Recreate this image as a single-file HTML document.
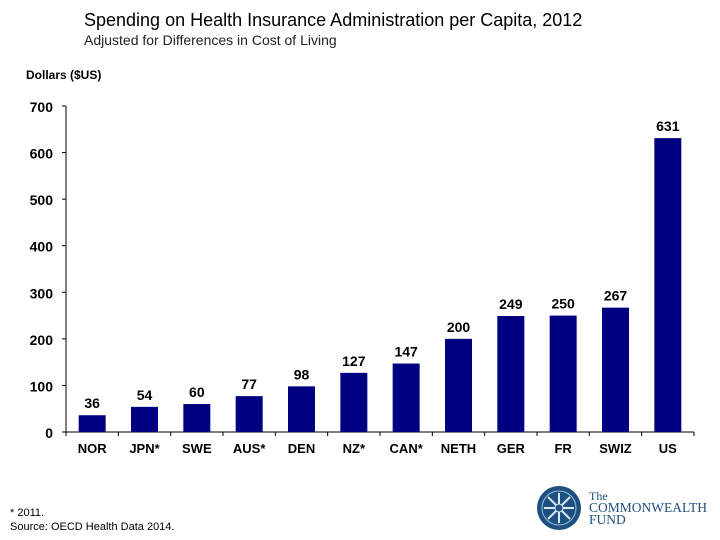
<!DOCTYPE html>
<html><head><meta charset="utf-8"><style>
body{margin:0;background:#fff;font-family:"Liberation Sans",Arial,sans-serif}
#wrap{position:relative;width:720px;height:540px;overflow:hidden}
.t{position:absolute;white-space:nowrap}
</style></head><body>
<div id="wrap">
<div class="t" style="left:84px;top:10px;font-size:18px">Spending on Health Insurance Administration per Capita, 2012</div>
<div class="t" style="left:84px;top:32px;font-size:14px;color:#222">Adjusted for Differences in Cost of Living</div>
<div class="t" style="left:26px;top:68px;font-size:12px;font-weight:bold">Dollars ($US)</div>
<svg id="chart" width="720" height="540" style="position:absolute;left:0;top:0"></svg>
<div class="t" style="left:10px;top:506px;font-size:11px;line-height:14px">* 2011.<br>Source: OECD Health Data 2014.</div>
<svg style="position:absolute;left:536px;top:485px" width="46" height="46">
<circle cx="23" cy="23" r="22" fill="#1d4f7f"/><circle cx="23" cy="23" r="17" fill="none" stroke="#9cc0dd" stroke-width="1"/>
<g stroke="#d8e8f5" stroke-width="2"><line x1="23" y1="8" x2="23" y2="38"/><line x1="8" y1="23" x2="38" y2="23"/><line x1="12" y1="12" x2="34" y2="34"/><line x1="34" y1="12" x2="12" y2="34"/></g>
<circle cx="23" cy="23" r="4" fill="#1d4f7f" stroke="#d8e8f5"/></svg>
<div class="t" style="left:589px;top:490px;font-family:'Liberation Serif',serif;color:#1d4f7f;font-size:12px;line-height:12px">The<br><span style="font-size:13.5px">COMMONWEALTH</span><br><span style="font-size:13.5px">FUND</span></div>
</div>
<script>
const categories=["NOR","JPN*","SWE","AUS*","DEN","NZ*","CAN*","NETH","GER","FR","SWIZ","US"];
const values=[36,54,60,77,98,127,147,200,249,250,267,631];
const yTicks=[0,100,200,300,400,500,600,700];
const NS="http://www.w3.org/2000/svg";
const svg=document.getElementById('chart');
const x0=66,x1=694,yb=432,yt=106,ymax=700;
const band=(x1-x0)/categories.length,bw=27;
const y=v=>yb-(v/ymax)*(yb-yt);
const xc=i=>x0+band*(i+0.5);
function el(tag,attrs,txt){const e=document.createElementNS(NS,tag);for(const k in attrs)e.setAttribute(k,attrs[k]);if(txt!==undefined)e.textContent=txt;svg.appendChild(e);return e;}
const ax=el('line',{x1:x0,y1:yt,x2:x0,y2:yb,stroke:'#000','stroke-width':1});


const bx=el('line',{x1:x0,y1:yb,x2:x1,y2:yb,stroke:'#000','stroke-width':1});


yTicks.forEach(t=>{
  const tl=el('text',{x:53,y:y(t)+6,'text-anchor':'end','font-size':14,'font-weight':'bold','font-family':'Liberation Sans, sans-serif'},t);
  
  
  const tm=el('line',{x1:x0-4,y1:y(t),x2:x0,y2:y(t),stroke:'#000'});
  
  
});
for(let i=0;i<=categories.length;i++){
  const tm=el('line',{x1:x0+band*i,y1:yb,x2:x0+band*i,y2:yb+4,stroke:'#000'});
  
  
}
categories.forEach((c,i)=>{
  const v=values[i];
  const r=el('rect',{x:xc(i)-bw/2,y:y(v),width:bw,height:yb-y(v),fill:'#000080'});
  
  
  const vl=el('text',{x:xc(i),y:y(v)-7,'text-anchor':'middle','font-size':14,'font-weight':'bold','font-family':'Liberation Sans, sans-serif'},v);
  
  
  const cl=el('text',{x:xc(i),y:453,'text-anchor':'middle','font-size':13,'font-weight':'bold','font-family':'Liberation Sans, sans-serif'},c);
  
  
});
</script>
</body></html>
